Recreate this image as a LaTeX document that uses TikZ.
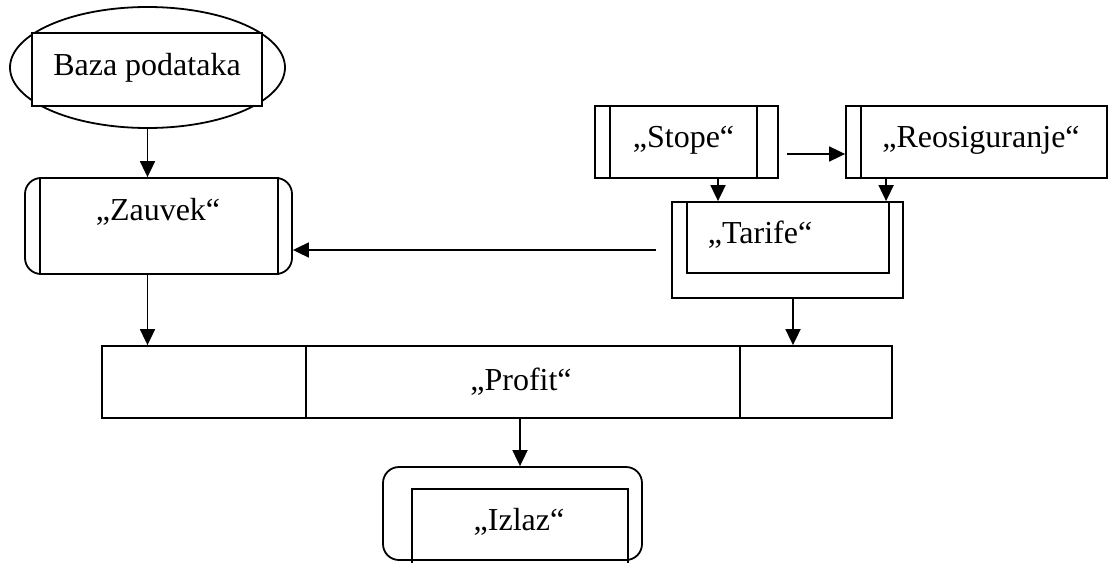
\documentclass[tikz,border=0pt]{standalone}
\usepackage{fontspec}
\setmainfont{Liberation Serif}
\usetikzlibrary{shapes.geometric,arrows.meta,calc}

\begin{document}
\begin{tikzpicture}[x=1pt,y=-1pt,line width=1.8pt,
    font=\fontsize{32}{38}\selectfont,
    box/.style={draw,rectangle,fill=white,inner sep=0pt},
    rbox/.style={draw,rectangle,rounded corners=16pt,inner sep=0pt},
    txt/.style={anchor=base,inner sep=0pt},
    arr/.style={-{Triangle[length=16pt,width=15pt]}}]
            \useasboundingbox (0,0) rectangle (1113,562);

            % Baza podataka
            \node[draw,ellipse,inner sep=0pt,minimum width=275pt,minimum height=121pt] (bazaell) at (147.5,67.5) {};
            \node[box,minimum width=230pt,minimum height=73pt] (bazabox) at (147,69.5) {};
            \node[txt] (bazatxt) at (147,75) {Baza podataka};

            % Zauvek
            \node[rbox,minimum width=267pt,minimum height=96pt] (zauvek) at (158.5,226) {};
            \draw ($(zauvek.north west)+(16,0)$) -- ($(zauvek.south west)+(16,0)$);
            \draw ($(zauvek.north east)+(-15,0)$) -- ($(zauvek.south east)+(-15,0)$);
            \node[txt] (zauvektxt) at (158,220) {„Zauvek“};

            % Stope i Reosiguranje
            \node[box,minimum width=183pt,minimum height=72pt] (stope) at (686.5,142) {};
            \draw ($(stope.north west)+(16,0)$) -- ($(stope.south west)+(16,0)$);
            \draw ($(stope.north east)+(-22,0)$) -- ($(stope.south east)+(-22,0)$);
            \node[txt] (stopetxt) at (683.5,147) {„Stope“};

            \node[box,minimum width=261pt,minimum height=72pt] (reosig) at (976.5,142) {};
            \draw ($(reosig.north west)+(16,0)$) -- ($(reosig.south west)+(16,0)$);
            \node[txt] (reosigtxt) at (981,147) {„Reosiguranje“};

            % Tarife
            \node[box,minimum width=231pt,minimum height=96pt] (tarife) at (787.5,250) {};
            \node[box,anchor=north west,minimum width=202pt,minimum height=71pt] (tarifein) at ($(tarife.north west)+(15,0)$) {};
            \node[txt] (tarifetxt) at (760,243) {„Tarife“};

            % Profit
            \node[box,minimum width=790pt,minimum height=72pt] (profit) at (497,382) {};
            \draw ($(profit.north west)+(205,0)$) -- ($(profit.south west)+(205,0)$);
            \draw ($(profit.north west)+(639,0)$) -- ($(profit.south west)+(639,0)$);
            \node[txt] (profittxt) at (521,390) {„Profit“};

            % Izlaz
            \node[rbox,minimum width=259pt,minimum height=93pt] (izlaz) at (512.5,513.5) {};
            \draw ($(izlaz.south west)+(30,2)$) -- ($(izlaz.north west)+(30,23)$)
              -- ($(izlaz.north east)+(-15,23)$) -- ($(izlaz.south east)+(-15,2)$);
            \node[txt] (izlaztxt) at (519,530) {„Izlaz“};

            % connectors
            \coordinate (s1) at ($(stope.south)+(31.5,0)$);
            \coordinate (r1) at ($(reosig.south west)+(41,0)$);
            \coordinate (t1) at ($(tarife.south)+(5.5,0)$);
            \coordinate (p1) at ($(profit.south)+(23,0)$);
            \coordinate (t0) at ($(tarife.west)+(-15,0)$);

            \draw[arr] (bazaell.south) -- (bazaell.south |- zauvek.north);
            \draw[arr] (bazaell.south |- zauvek.south) -- (bazaell.south |- profit.north);
            \draw[arr] ($(stope.east)+(8,12)$) -- ($(reosig.west)+(0,12)$);
            \draw[arr] (s1) -- (s1 |- tarife.north);
            \draw[arr] (r1) -- (r1 |- tarife.north);
            \draw[arr] (t0) -- (t0 -| zauvek.east);
            \draw[arr] (t1) -- (t1 |- profit.north);
            \draw[arr] (p1) -- (p1 |- izlaz.north);
        \end{tikzpicture}
\end{document}
